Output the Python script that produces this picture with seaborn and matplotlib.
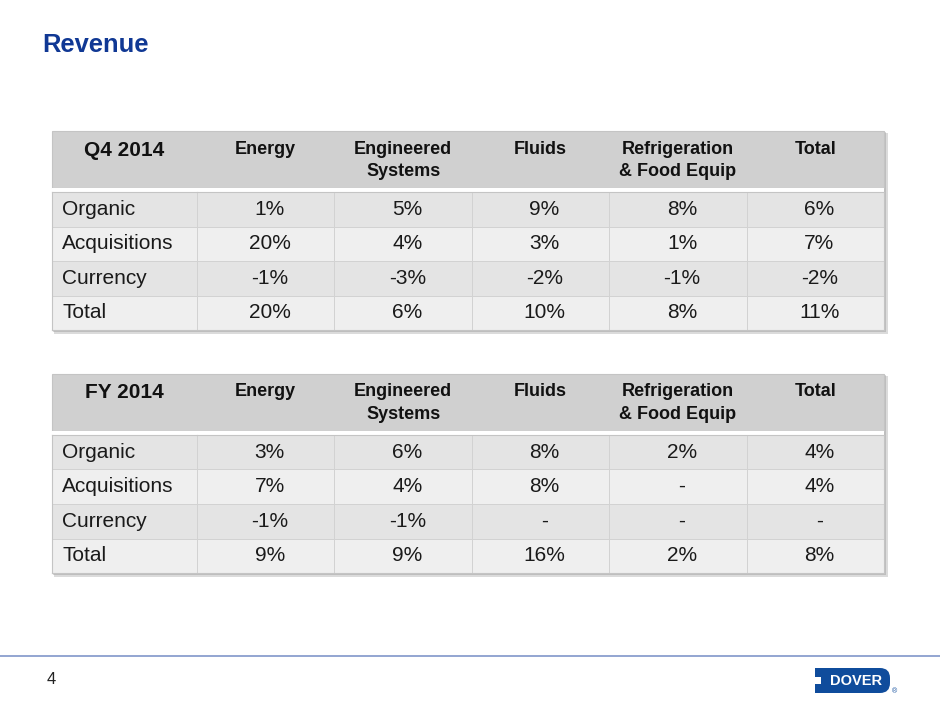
import matplotlib
matplotlib.use("Agg")
import matplotlib.pyplot as plt
import seaborn as sns
import numpy as np
from matplotlib.colors import ListedColormap
from matplotlib.patches import Rectangle, FancyBboxPatch

# Data
row_labels = ["Organic", "Acquisitions", "Currency", "Total"]
segments = ["Energy", "Engineered\nSystems", "Fluids", "Refrigeration\n& Food Equip", "Total"]

q4_title = "Q4 2014"
q4_energy = ["1%", "20%", "-1%", "20%"]
q4_engineered = ["5%", "4%", "-3%", "6%"]
q4_fluids = ["9%", "3%", "-2%", "10%"]
q4_refrig = ["8%", "1%", "-1%", "8%"]
q4_total = ["6%", "7%", "-2%", "11%"]

fy_title = "FY 2014"
fy_energy = ["3%", "7%", "-1%", "9%"]
fy_engineered = ["6%", "4%", "-1%", "9%"]
fy_fluids = ["8%", "8%", "-", "16%"]
fy_refrig = ["2%", "-", "-", "2%"]
fy_total = ["4%", "4%", "-", "8%"]

row_shade = [0, 1, 0, 1]

W, H = 940, 705
sns.set_style("white")
plt.rcParams["font.family"] = ["Liberation Sans", "DejaVu Sans"]

fig = plt.figure(figsize=(W / 100, H / 100), dpi=100)

# background axes in pixel coordinates
bg = fig.add_axes([0, 0, 1, 1])
bg.set_xlim(0, W)
bg.set_ylim(H, 0)
bg.axis("off")


def px_rect(x0, y0, x1, y1):
    return [x0 / W, 1 - y1 / H, (x1 - x0) / W, (y1 - y0) / H]


X0, XL, X1 = 52, 197, 884
shade_cmap = ListedColormap(["#e4e4e4", "#efefef"])


def draw_table(top, title, cols):
    head_bot = top + 57
    body_top = top + 61
    body_bot = top + 199
    # drop shadow
    bg.add_patch(Rectangle((X0 + 2, top + 2), X1 - X0 + 2, body_bot - top + 2,
                           color="#9a9a9a", alpha=0.35, lw=0, zorder=1))
    bg.add_patch(Rectangle((X0 + 1, top + 1), X1 - X0 + 1, body_bot - top + 1,
                           color="#8a8a8a", alpha=0.35, lw=0, zorder=1))
    # header band
    bg.add_patch(Rectangle((X0, top), X1 - X0, head_bot - top,
                           facecolor="#d0d0d0", edgecolor="#c4c4c4", lw=0.8, zorder=2))
    bg.add_patch(Rectangle((X0, head_bot), X1 - X0, body_top - head_bot,
                           facecolor="white", lw=0, zorder=2))
    bg.text((X0 + XL) / 2, top + 19, title, ha="center", va="center",
            fontsize=15, fontweight="bold", color="#111111", zorder=3)
    cw = (X1 - XL) / len(segments)
    for i, seg in enumerate(segments):
        bg.text(XL + cw * (i + 0.5), top + 9.5, seg, ha="center", va="top",
                fontsize=13, fontweight="bold", color="#111111",
                linespacing=1.45, zorder=3)

    # label column
    ax_l = fig.add_axes(px_rect(X0, body_top, XL, body_bot))
    shade = np.array(row_shade).reshape(-1, 1)
    sns.heatmap(shade, ax=ax_l, cmap=shade_cmap, vmin=0, vmax=1, cbar=False,
                annot=np.array(row_labels).reshape(-1, 1), fmt="",
                annot_kws=dict(fontsize=15, color="#1a1a1a"),
                linewidths=0.7, linecolor="#d2d2d2",
                xticklabels=False, yticklabels=False)
    for t in ax_l.texts:
        t.set_ha("left")
        t.set_x(0.07)

    # value columns
    ax_v = fig.add_axes(px_rect(XL, body_top, X1, body_bot))
    vals = np.array(cols).T
    shade_v = np.repeat(np.array(row_shade).reshape(-1, 1), len(cols), axis=1)
    sns.heatmap(shade_v, ax=ax_v, cmap=shade_cmap, vmin=0, vmax=1, cbar=False,
                annot=vals, fmt="",
                annot_kws=dict(fontsize=15, color="#1a1a1a"),
                linewidths=0.7, linecolor="#d2d2d2",
                xticklabels=False, yticklabels=False)
    for t in ax_v.texts:
        t.set_x(t.get_position()[0] + 0.03)
    for ax in (ax_l, ax_v):
        for s in ax.spines.values():
            s.set_visible(True)
            s.set_color("#c4c4c4")
            s.set_linewidth(0.8)
    ax_l.spines["right"].set_visible(False)
    ax_v.spines["left"].set_visible(False)


draw_table(131, q4_title, [q4_energy, q4_engineered, q4_fluids, q4_refrig, q4_total])
draw_table(374, fy_title, [fy_energy, fy_engineered, fy_fluids, fy_refrig, fy_total])

# title
bg.text(42, 45, "Revenue", ha="left", va="center", fontsize=18.4,
        fontweight="bold", color="#103894")

# footer
bg.plot([0, W], [655.5, 655.5], color="#8096c9", lw=1.2)
bg.text(51, 679, "4", ha="center", va="center", fontsize=12, color="#222222")

# logo
blue = "#0f4c9c"
bg.add_patch(FancyBboxPatch((817, 668), 73, 25, boxstyle="round,pad=0,rounding_size=10",
                            facecolor=blue, lw=0))
bg.add_patch(Rectangle((815, 668), 14, 25, facecolor=blue, lw=0))
bg.add_patch(Rectangle((815, 677), 6, 7, facecolor="white", lw=0))
bg.text(856, 681, "DOVER", ha="center", va="center", fontsize=10.5,
        fontweight="bold", color="white")
bg.text(894, 692, "®", ha="center", va="center", fontsize=5, color=blue)

fig.savefig("out.png", dpi=100)
